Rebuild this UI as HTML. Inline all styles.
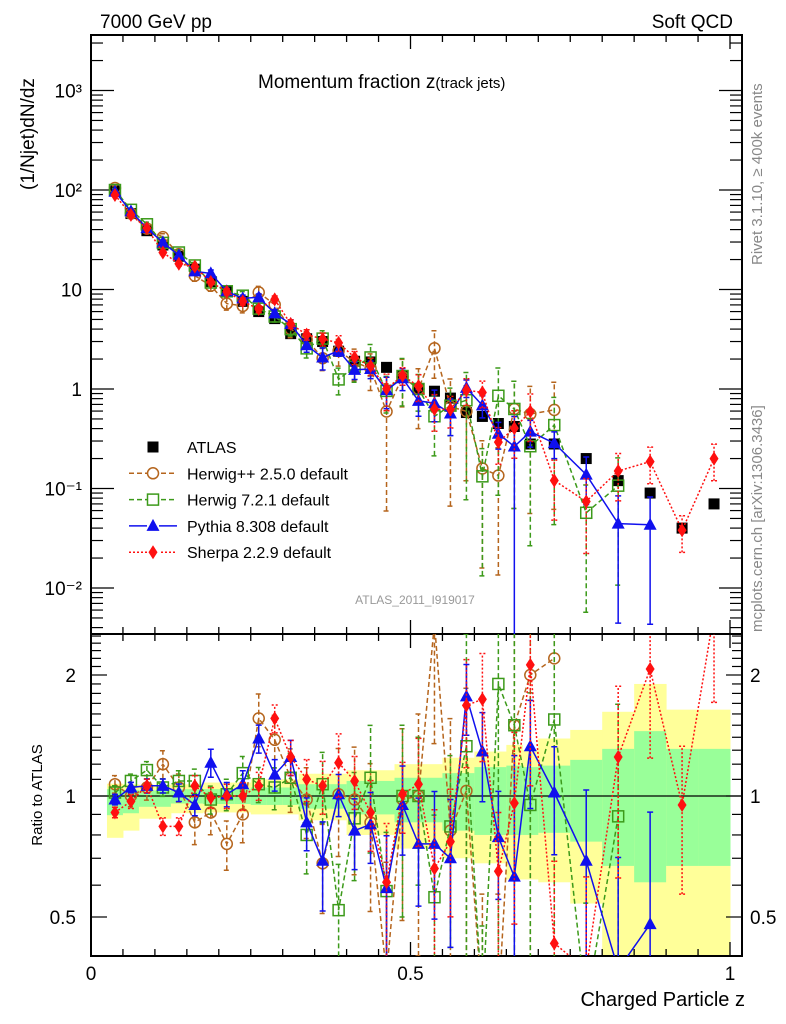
<!DOCTYPE html>
<html><head><meta charset="utf-8"><style>
html,body{margin:0;padding:0;background:#fff;width:786px;height:1024px;overflow:hidden}
svg{display:block;position:absolute;left:0;top:0;font-family:"Liberation Sans",sans-serif}
</style></head><body>
<svg id="c" width="786" height="1024" viewBox="0 0 786 1024" xmlns="http://www.w3.org/2000/svg">
<defs>
<clipPath id="cm"><rect x="91" y="35" width="651" height="599"/></clipPath>
<clipPath id="cr"><rect x="91" y="634" width="651" height="322"/></clipPath>
</defs>
<text x="100" y="28" font-size="19">7000 GeV pp</text>
<text x="733" y="28" font-size="19" text-anchor="end">Soft QCD</text>
<text x="258" y="88" font-size="19">Momentum fraction z<tspan font-size="15">(track jets)</tspan></text>
<text x="415" y="604" font-size="12" fill="#999" text-anchor="middle">ATLAS_2011_I919017</text>
<text transform="translate(34,190) rotate(-90)" font-size="19">(1/Njet)dN/dz</text>
<text transform="translate(42,795) rotate(-90)" font-size="15" text-anchor="middle">Ratio to ATLAS</text>
<text x="745" y="1006" font-size="20" text-anchor="end">Charged Particle z</text>
<text transform="translate(762,265) rotate(-90)" font-size="15" fill="#888">Rivet 3.1.10, ≥ 400k events</text>
<text transform="translate(762,632) rotate(-90)" font-size="15" fill="#888">mcplots.cern.ch [arXiv:1306.3436]</text>
<g id="bands" clip-path="url(#cr)"></g>
<g id="axes"></g>
<g id="mainMarks" clip-path="url(#cm)"></g>
<g id="ratioMarks" clip-path="url(#cr)"></g>
<g id="legend"></g>
</svg>
<script>
const zCenters=[0.0375,0.0625,0.0875,0.1125,0.1375,0.1625,0.1875,0.2125,0.2375,0.2625,0.2875,0.3125,0.3375,0.3625,0.3875,0.4125,0.4375,0.4625,0.4875,0.5125,0.5375,0.5625,0.5875,0.6125,0.6375,0.6625,0.6875,0.725,0.775,0.825,0.875,0.925,0.975];
const zLo=[0.025,0.05,0.075,0.1,0.125,0.15,0.175,0.2,0.225,0.25,0.275,0.3,0.325,0.35,0.375,0.4,0.425,0.45,0.475,0.5,0.525,0.55,0.575,0.6,0.625,0.65,0.675,0.7,0.75,0.8,0.85,0.9,0.95];
const zHi=[0.05,0.075,0.1,0.125,0.15,0.175,0.2,0.225,0.25,0.275,0.3,0.325,0.35,0.375,0.4,0.425,0.45,0.475,0.5,0.525,0.55,0.575,0.6,0.625,0.65,0.675,0.7,0.75,0.8,0.85,0.9,0.95,1.0];
const atlas=[98,58,39,28,21.6,16,12,9.5,7.6,6,5.1,3.6,3.2,3.0,2.4,1.9,1.87,1.65,1.35,1.0,0.95,0.81,0.58,0.53,0.45,0.42,0.28,0.28,0.2,0.12,0.09,0.04,0.07];
const yellowUp=[1.073,1.069,1.066,1.066,1.069,1.069,1.08,1.08,1.08,1.1,1.1,1.1,1.136,1.136,1.136,1.159,1.159,1.159,1.2,1.2,1.2,1.245,1.245,1.29,1.29,1.34,1.3,1.39,1.46,1.62,1.9,1.64,1.64];
const yellowDn=[0.787,0.82,0.878,0.878,0.906,0.906,0.91,0.91,0.91,0.9,0.9,0.9,0.87,0.87,0.87,0.8,0.8,0.8,0.74,0.74,0.74,0.7,0.7,0.68,0.68,0.62,0.62,0.61,0.54,0.4,0.4,0.4,0.4];
const greenUp=[1.04,1.036,1.032,1.032,1.04,1.04,1.04,1.04,1.04,1.05,1.05,1.05,1.07,1.07,1.07,1.09,1.09,1.09,1.11,1.11,1.11,1.14,1.14,1.18,1.18,1.19,1.18,1.19,1.23,1.31,1.45,1.31,1.31];
const greenDn=[0.896,0.906,0.94,0.94,0.958,0.958,0.955,0.955,0.955,0.95,0.95,0.95,0.93,0.93,0.93,0.9,0.9,0.9,0.86,0.86,0.86,0.82,0.82,0.8,0.8,0.8,0.8,0.81,0.77,0.67,0.61,0.67,0.67];
const herwigppRatio=[1.07,1.0,1.05,1.2,1.05,0.86,0.91,0.76,0.9,1.56,1.38,1.11,0.98,0.68,1.01,0.98,0.86,0.36,0.98,1.0,2.7,0.82,1.03,0.3,0.3,1.5,2.0,2.2,null,null,null,null,null];
const herwigppErr=[0.05,0.06,0.07,0.08,0.08,0.12,0.12,0.14,0.15,0.15,0.15,0.18,0.2,0.25,0.3,0.35,0.4,0.9,0.5,0.6,0.5,0.9,0.8,0.9,0.9,0.9,0.9,0.9,0,0,0,0,0];
const herwig7Ratio=[1.02,1.09,1.16,1.05,1.09,1.09,0.98,1.01,1.14,1.07,1.05,1.11,0.8,1.07,0.52,0.88,1.11,0.58,1.0,1.0,0.56,0.84,1.33,0.25,1.9,1.5,0.95,1.55,0.285,0.89,null,null,null];
const herwig7Err=[0.04,0.04,0.05,0.05,0.06,0.07,0.08,0.09,0.1,0.1,0.12,0.15,0.2,0.2,0.3,0.3,0.35,0.4,0.5,0.4,0.6,0.5,0.9,0.9,0.9,0.9,0.9,0.9,0.9,0.9,0,0,0];
const pythiaRatio=[0.98,1.05,1.06,1.06,1.02,0.95,1.21,1.01,1.07,1.39,1.13,1.25,0.86,0.69,1.01,0.82,0.85,0.59,0.95,0.76,0.76,0.7,1.77,1.29,0.79,0.63,1.33,1.02,0.69,0.37,0.48,null,null];
const pythiaErr=[0.03,0.03,0.04,0.04,0.05,0.06,0.08,0.07,0.08,0.08,0.09,0.1,0.15,0.25,0.12,0.2,0.2,0.35,0.25,0.3,0.35,0.4,0.2,0.25,0.3,1,0.3,0.3,0.5,0.9,0.9,0,0];
const sherpaRatio=[0.91,0.97,1.06,0.84,0.84,1.06,0.99,1.0,1.0,1.06,1.56,1.25,1.1,1.06,1.21,1.09,0.91,0.61,1.01,1.07,0.66,0.77,1.68,1.74,0.65,0.96,2.12,0.43,0.37,1.25,2.07,0.95,2.85];
const sherpaErr=[0.03,0.04,0.04,0.05,0.05,0.06,0.06,0.07,0.08,0.08,0.08,0.1,0.12,0.15,0.18,0.15,0.2,0.4,0.2,0.3,0.4,0.35,0.3,0.3,0.4,0.5,0.5,0.6,0.7,0.5,0.4,0.4,0.4];
const mainTickLabels=["10³","10²","10","1","10⁻¹","10⁻²"];
const ratioTickLabels=["0.5","1","2"];

const NS="http://www.w3.org/2000/svg";
const X=z=>91+639*z;
const YM=v=>389-99.5*Math.log10(Math.max(v,0.002));
const YR=r=>796-121*Math.log2(Math.min(Math.max(r,0.3),3.2));
function mk(tag,attrs,parent){const e=document.createElementNS(NS,tag);for(const k in attrs)e.setAttribute(k,attrs[k]);parent.appendChild(e);return e;}
const axes=document.getElementById('axes');
const bands=document.getElementById('bands');
zCenters.forEach((z,i)=>{
  const y=mk('rect',{x:X(zLo[i]),y:YR(yellowUp[i]),width:X(zHi[i])-X(zLo[i])+0.5,height:YR(yellowDn[i])-YR(yellowUp[i]),fill:'#ffff99'},bands);
  
  
  const g=mk('rect',{x:X(zLo[i]),y:YR(greenUp[i]),width:X(zHi[i])-X(zLo[i])+0.5,height:YR(greenDn[i])-YR(greenUp[i]),fill:'#99ff99'},bands);
  
  
});
const f1=mk('rect',{x:91,y:35,width:651,height:599,fill:'none',stroke:'#000','stroke-width':2},axes);


const f2=mk('rect',{x:91,y:634,width:651,height:322,fill:'none',stroke:'#000','stroke-width':2},axes);


const one=mk('line',{x1:91,x2:742,y1:YR(1),y2:YR(1),stroke:'#000','stroke-width':1.3},axes);


for(let k=1;k<=20;k++){const z=k*0.05;const x=X(z);const L=(k%10==0)?14:7;
  [[35,1],[634,-1],[634,1],[956,-1]].forEach(([y0,d])=>{const t=mk('line',{x1:x,x2:x,y1:y0,y2:y0+d*L,stroke:'#000','stroke-width':1.3},axes);
  
  });}
[[0,"0"],[0.5,"0.5"],[1,"1"]].forEach(([z,s])=>{const t=mk('text',{x:X(z),y:980,'font-size':19,'text-anchor':'middle'},axes);t.textContent=s;
  
  });
for(let e=-3;e<=3;e++){for(let m=1;m<10;m++){const v=m*Math.pow(10,e);const y=389-99.5*Math.log10(v);if(y<36||y>633)continue;const L=m==1?23:12;
  [[91,1],[742,-1]].forEach(([x0,d])=>{const t=mk('line',{x1:x0,x2:x0+d*L,y1:y,y2:y,stroke:'#000','stroke-width':1.2},axes);
  
  });}}
mainTickLabels.forEach((s,i)=>{const v=Math.pow(10,3-i);const t=mk('text',{x:82,y:YM(v)+7,'font-size':19,'text-anchor':'end'},axes);t.textContent=s;
  
  });
for(let k=4;k<=25;k++){const r=k/10;const y=YR(r);if(y<635||y>955)continue;const L=(k==5||k==10||k==20)?16:10;
  [[91,1],[742,-1]].forEach(([x0,d])=>{const t=mk('line',{x1:x0,x2:x0+d*L,y1:y,y2:y,stroke:'#000','stroke-width':1.2},axes);
  
  });}
ratioTickLabels.forEach(s=>{const y=YR(parseFloat(s))+7;
  const a=mk('text',{x:76,y:y,'font-size':19,'text-anchor':'end'},axes);a.textContent=s;
  
  
  const b=mk('text',{x:750,y:y,'font-size':19},axes);b.textContent=s;
  
  });
const series=[
 {name:'herwigpp',ratio:herwigppRatio,err:herwigppErr,color:'#b5651d',dash:'5,3',marker:'circle'},
 {name:'herwig7',ratio:herwig7Ratio,err:herwig7Err,color:'#3c9a1a',dash:'5,3',marker:'square'},
 {name:'pythia',ratio:pythiaRatio,err:pythiaErr,color:'#1010ee',dash:'',marker:'triangle'},
 {name:'sherpa',ratio:sherpaRatio,err:sherpaErr,color:'#ff1010',dash:'2,2',marker:'diamond'}];
function marker(type,x,y,color,g){
  let e;
  if(type=='circle')e=mk('circle',{cx:x,cy:y,r:5.5,fill:'none',stroke:color,'stroke-width':1.5},g);
  else if(type=='square')e=mk('rect',{x:x-5.5,y:y-5.5,width:11,height:11,fill:'none',stroke:color,'stroke-width':1.5},g);
  else if(type=='triangle')e=mk('polygon',{points:`${x},${y-7} ${x-6.5},${y+5} ${x+6.5},${y+5}`,fill:color},g);
  else if(type=='diamond')e=mk('polygon',{points:`${x},${y-7} ${x-4.5},${y} ${x},${y+7} ${x+4.5},${y}`,fill:color},g);
  else e=mk('rect',{x:x-5.5,y:y-5.5,width:11,height:11,fill:'#000'},g);
  return e;
}
const mainG=document.getElementById('mainMarks'),ratioG=document.getElementById('ratioMarks');
[[mainG,'main',(i,r)=>YM(r*atlas[i])],[ratioG,'ratio',(i,r)=>YR(r)]].forEach(([G,pan,Yf])=>{
 if(pan=='main'){atlas.forEach((v,i)=>{const m=marker('data',X(zCenters[i]),YM(v),'#000',G);
   
   });}
 series.forEach(s=>{
  let d='';s.ratio.forEach((r,i)=>{if(r==null)return;d+=(d?'L':'M')+X(zCenters[i]).toFixed(1)+','+Yf(i,r).toFixed(1);});
  const p=mk('path',{d:d,fill:'none',stroke:s.color,'stroke-width':1.5,'stroke-dasharray':s.dash},G);
  
  
  s.ratio.forEach((r,i)=>{if(r==null)return;const x=X(zCenters[i]);const e=s.err[i];
   const lo=Math.max(r*(1-e),1e-4),hi=r*(1+e);
   const eb=mk('path',{d:`M${x},${Yf(i,lo)}L${x},${Yf(i,hi)}M${x-3},${Yf(i,lo)}L${x+3},${Yf(i,lo)}M${x-3},${Yf(i,hi)}L${x+3},${Yf(i,hi)}`,stroke:s.color,'stroke-width':1.5,'stroke-dasharray':s.dash,fill:'none'},G);
   
   
   const m=marker(s.marker,x,Yf(i,r),s.color,G);
   
   });
 });
});
const lg=document.getElementById('legend');
const entries=[['data','ATLAS','#000',''],['circle','Herwig++ 2.5.0 default','#b5651d','5,3'],['square','Herwig 7.2.1 default','#3c9a1a','5,3'],['triangle','Pythia 8.308 default','#1010ee',''],['diamond','Sherpa 2.2.9 default','#ff1010','2,2']];
entries.forEach((en,i)=>{const y=447+26.3*i;
  const g=mk('g',{},lg);
  
  
  if(i>0)mk('line',{x1:129,x2:177,y1:y,y2:y,stroke:en[2],'stroke-width':1.5,'stroke-dasharray':en[3]},g);
  if(i>0)mk('rect',{x:147,y:y-6,width:12,height:12,fill:'#fff'},g);
  marker(en[0],153,y,en[2],g);
  const t=mk('text',{x:187,y:y+6,'font-size':16},g);t.textContent=en[1];});
</script>
</body></html>
